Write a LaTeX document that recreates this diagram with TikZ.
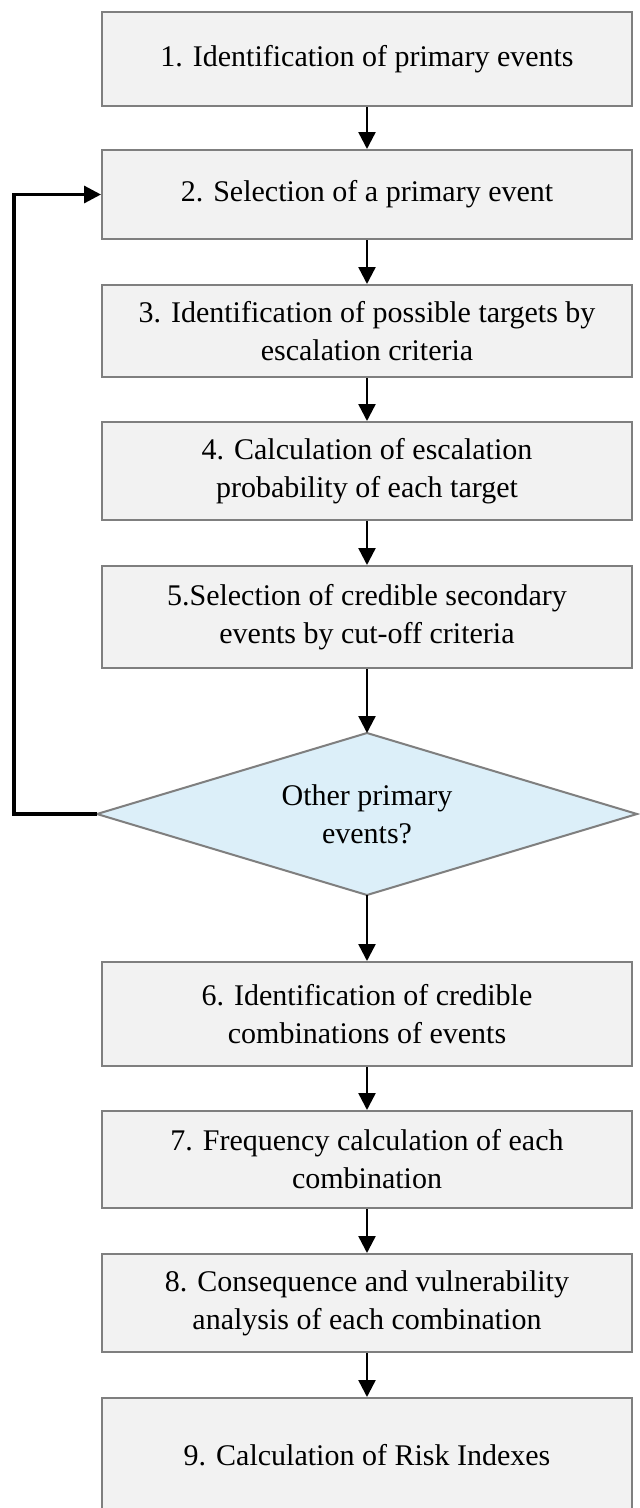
\documentclass[tikz,border=0pt]{standalone}
\usepackage{fontspec}
\setmainfont{Liberation Serif}
\usetikzlibrary{arrows.meta}
\definecolor{boxfill}{HTML}{F2F2F2}
\definecolor{boxline}{HTML}{7F7F7F}
\definecolor{dfill}{HTML}{DCEFF9}
\begin{document}
\begin{tikzpicture}[x=1pt,y=-1pt,
  stepbox/.style={draw=boxline, line width=2pt, fill=boxfill, minimum width=530pt,
    align=center, font=\fontsize{30}{38}\selectfont, inner sep=0pt},
  decision/.style={draw=boxline, line width=2pt, fill=dfill, line join=miter},
  dtext/.style={align=center, font=\fontsize{30}{38}\selectfont, inner sep=0pt},
  arr/.style={draw=black, line width=2.4pt, -{Triangle[width=17pt,length=17pt]}},
  looparr/.style={draw=black, line width=3.2pt, -{Triangle[width=17pt,length=17pt]}}]
\useasboundingbox[fill=white] (0,0) rectangle (640,1508);
\node[stepbox, minimum height=94pt] (b1) at (367,59) {1. Identification of primary events};
\node[stepbox, minimum height=89pt] (b2) at (367,194.5) {2. Selection of a primary event};
\node[stepbox, minimum height=92pt] (b3) at (367,331) {3. Identification of possible targets by\\escalation criteria};
\node[stepbox, minimum height=98pt] (b4) at (367,471) {4. Calculation of escalation\\probability of each target};
\node[stepbox, minimum height=102pt] (b5) at (367,617) {5.Selection of credible secondary\\events by cut-off criteria};
\coordinate (dn) at (367,733);
\coordinate (ds) at (367,895);
\coordinate (dw) at (97,814);
\coordinate (de) at (637,814);
\draw[decision] (dn) -- (de) -- (ds) -- (dw) -- cycle;
\node[dtext] (d) at (367,814) {Other primary\\events?};
\node[stepbox, minimum height=104pt] (b6) at (367,1014) {6. Identification of credible\\combinations of events};
\node[stepbox, minimum height=97pt] (b7) at (367,1159.5) {7. Frequency calculation of each\\combination};
\node[stepbox, minimum height=98pt] (b8) at (367,1303) {8. Consequence and vulnerability\\analysis of each combination};
\node[stepbox, minimum height=114pt] (b9) at (367,1455) {9. Calculation of Risk Indexes};
\coordinate (lp) at (14,814);
\draw[arr] (b1.south) -- (b2.north);
\draw[arr] (b2.south) -- (b3.north);
\draw[arr] (b3.south) -- (b4.north);
\draw[arr] (b4.south) -- (b5.north);
\draw[arr] (b5.south) -- (dn);
\draw[arr] (ds) -- (b6.north);
\draw[arr] (b6.south) -- (b7.north);
\draw[arr] (b7.south) -- (b8.north);
\draw[arr] (b8.south) -- (b9.north);
\draw[looparr] (dw) -- (lp) |- (b2.west);
\end{tikzpicture}
\end{document}
